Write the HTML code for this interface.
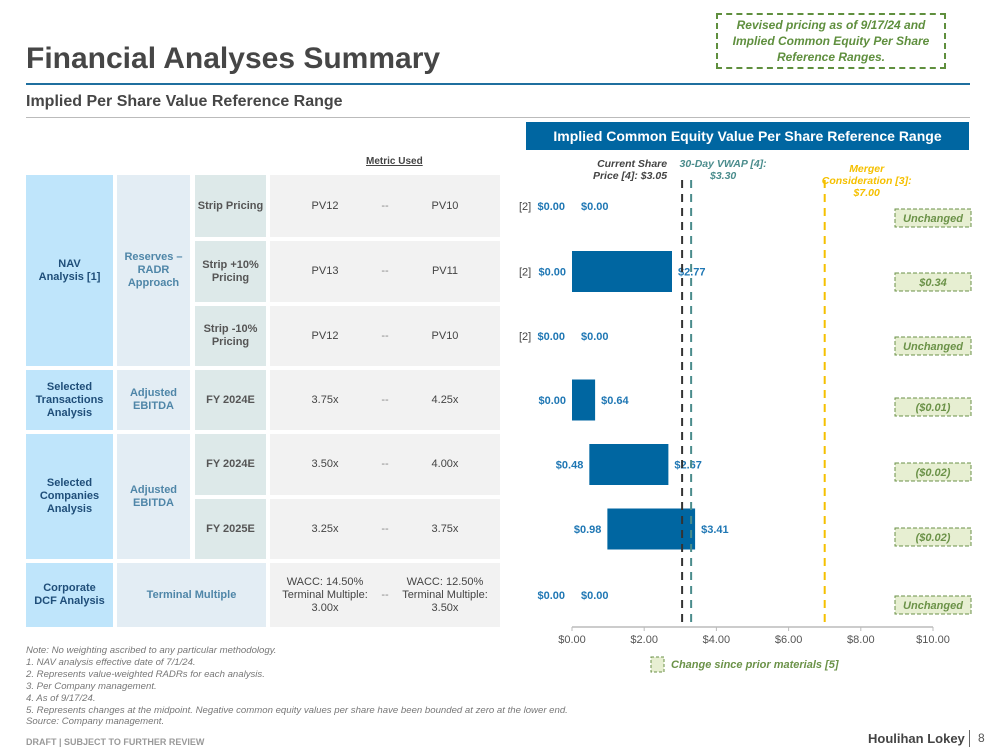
<!DOCTYPE html>
<html><head><meta charset="utf-8"><style>
*{margin:0;padding:0;box-sizing:border-box}
body{width:999px;height:750px;background:#fff;position:relative;font-family:"Liberation Sans",Arial,sans-serif;overflow:hidden}
.a{position:absolute}
.c{position:absolute;display:flex;align-items:center;justify-content:center;text-align:center;font-size:11px;line-height:13px}
.c1{background:#bfe5fb;color:#1f4e79;font-weight:bold}
.c2{background:#e3edf4;color:#4f86a8;font-weight:bold}
.c3{background:#dde9e9;color:#555;font-weight:bold}
.c4{background:#f2f2f2;color:#444}
.note{position:absolute;left:26px;font-size:9.6px;font-style:italic;color:#777}
</style></head><body>
<div class="a" style="left:26px;top:42px;font-size:30px;font-weight:bold;color:#464646">Financial Analyses Summary</div>
<div class="a" style="left:716px;top:13px;width:230px;height:56px;border:2px dashed #5f8f3e;color:#5f8f3e;font-style:italic;font-weight:bold;font-size:12px;line-height:16px;text-align:center;padding-top:2px">Revised pricing as of 9/17/24 and Implied Common Equity Per Share Reference Ranges.</div>
<div class="a" style="left:26px;top:83px;width:944px;height:2px;background:#1f6f9f"></div>
<div class="a" style="left:26px;top:93px;font-size:16px;font-weight:bold;color:#464646">Implied Per Share Value Reference Range</div>
<div class="a" style="left:26px;top:117px;width:944px;height:1px;background:#bbb"></div>
<div class="a" style="left:526px;top:122px;width:443px;height:28px;background:#0066a1;color:#fff;font-weight:bold;font-size:14px;line-height:28px;text-align:center">Implied Common Equity Value Per Share Reference Range</div>
<div class="a" style="left:366px;top:156px;font-size:10px;font-weight:bold;color:#444;text-decoration:underline">Metric Used</div>

<div class="c c1" style="left:26px;top:175px;width:87px;height:191px">NAV<br>Analysis [1]</div>
<div class="c c2" style="left:117px;top:175px;width:73px;height:191px">Reserves –<br>RADR<br>Approach</div>
<div class="c c3" style="left:195px;top:175px;width:71px;height:62px">Strip Pricing</div>
<div class="c c3" style="left:195px;top:241px;width:71px;height:61px">Strip +10%<br>Pricing</div>
<div class="c c3" style="left:195px;top:306px;width:71px;height:60px">Strip -10%<br>Pricing</div>
<div class="c c1" style="left:26px;top:370px;width:87px;height:60px">Selected<br>Transactions<br>Analysis</div>
<div class="c c2" style="left:117px;top:370px;width:73px;height:60px">Adjusted<br>EBITDA</div>
<div class="c c3" style="left:195px;top:370px;width:71px;height:60px">FY 2024E</div>
<div class="c c1" style="left:26px;top:434px;width:87px;height:125px">Selected<br>Companies<br>Analysis</div>
<div class="c c2" style="left:117px;top:434px;width:73px;height:125px">Adjusted<br>EBITDA</div>
<div class="c c3" style="left:195px;top:434px;width:71px;height:61px">FY 2024E</div>
<div class="c c3" style="left:195px;top:499px;width:71px;height:60px">FY 2025E</div>
<div class="c c1" style="left:26px;top:563px;width:87px;height:64px">Corporate<br>DCF Analysis</div>
<div class="c c2" style="left:117px;top:563px;width:149px;height:64px">Terminal Multiple</div>

<div id="metrics"></div>

<svg class="a" style="left:0;top:0" width="999" height="750" id="chart"></svg>

<div class="note" style="top:645px">Note: No weighting ascribed to any particular methodology.</div>
<div class="note" style="top:657px">1. NAV analysis effective date of 7/1/24.</div>
<div class="note" style="top:669px">2. Represents value-weighted RADRs for each analysis.</div>
<div class="note" style="top:681px">3. Per Company management.</div>
<div class="note" style="top:693px">4. As of 9/17/24.</div>
<div class="note" style="top:705px">5. Represents changes at the midpoint. Negative common equity values per share have been bounded at zero at the lower end.</div>
<div class="note" style="top:716px">Source: Company management.</div>
<div class="a" style="left:26px;top:737px;font-size:9px;font-weight:bold;color:#999">DRAFT | SUBJECT TO FURTHER REVIEW</div>
<div class="a" style="left:868px;top:731px;font-size:13px;font-weight:bold;color:#444">Houlihan Lokey</div>
<div class="a" style="left:969px;top:730px;width:1px;height:17px;background:#666"></div>
<div class="a" style="left:978px;top:731px;font-size:12px;color:#555">8</div>

<script>
const lowVals=[0,0,0,0,0.48,0.98,0];
const highVals=[0,2.77,0,0.64,2.67,3.41,0];
const changes=["Unchanged","$0.34","Unchanged","($0.01)","($0.02)","($0.02)","Unchanged"];
const metricLow=["PV12","PV13","PV12","3.75x","3.50x","3.25x","WACC: 14.50%<br>Terminal Multiple:<br>3.00x"];
const metricHigh=["PV10","PV11","PV10","4.25x","4.00x","3.75x","WACC: 12.50%<br>Terminal Multiple:<br>3.50x"];
const footTags=["[2]","[2]","[2]","","","",""];
const ticks=[0,2,4,6,8,10];
const refVals=[3.05,3.30,7.00];

const NS="http://www.w3.org/2000/svg";
const svg=document.getElementById('chart');
const x=v=>572+v*36.1;
const rowTop=[175,241,306,370,434,499,563];
const rowH=[62,61,60,60,61,60,64];
const y=i=>rowTop[i]+rowH[i]/2;
function mk(t,a){const e=document.createElementNS(NS,t);for(const k in a)e.setAttribute(k,a[k]);svg.appendChild(e);return e;}
function tx(s,a){const e=mk('text',a);e.textContent=s;return e;}
const md=document.getElementById('metrics');
for(let i=0;i<7;i++){
  const d=document.createElement('div');d.className='c c4';
  
  
  d.style.cssText=`left:270px;top:${rowTop[i]}px;width:230px;height:${rowH[i]}px;justify-content:space-between;padding:0 10px`;
  d.innerHTML=`<span style="width:90px">${metricLow[i]}</span><span style="color:#888">--</span><span style="width:90px">${metricHigh[i]}</span>`;
  md.appendChild(d);
}
const ax=mk('line',{x1:x(0),x2:x(10),y1:627,y2:627,stroke:'#bbb','stroke-width':1.5});

ticks.forEach(t=>{
  const l=mk('line',{x1:x(t),x2:x(t),y1:627,y2:631,stroke:'#bbb'});
  
  const tt=tx('$'+t.toFixed(2),{x:x(t),y:643,'text-anchor':'middle','font-size':11,fill:'#555'});
  
});
for(let i=0;i<7;i++){
  const cy=y(i);
  if(highVals[i]>lowVals[i]){
    const r=mk('rect',{x:x(lowVals[i]),y:cy-20.5,width:x(highVals[i])-x(lowVals[i]),height:41,fill:'#0066a1'});
    
  }
  const hasBar=highVals[i]>lowVals[i];
  const lx=hasBar?x(lowVals[i])-6:565;
  const hx=hasBar?x(highVals[i])+6:581;
  const lt=tx('$'+lowVals[i].toFixed(2),{x:lx,y:cy+4,'text-anchor':'end','font-size':11,'font-weight':'bold',fill:'#1f77b4'});
  
  const ht=tx('$'+highVals[i].toFixed(2),{x:hx,y:cy+4,'font-size':11,'font-weight':'bold',fill:'#1f77b4'});
  
  if(footTags[i]){const f=tx(footTags[i],{x:519,y:cy+4,'font-size':11,fill:'#444'});
    }
  const by=[209,273,337,398,463,528,596][i];
  const b=mk('rect',{x:895,y:by,width:76,height:18,fill:'#e7efd2',stroke:'#6b9248','stroke-dasharray':'4,2'});
  
  const bt=tx(changes[i],{x:933,y:by+13,'text-anchor':'middle','font-size':11,'font-style':'italic','font-weight':'bold',fill:'#6b9248'});
  
}
const refCol=['#333','#4a8c8c','#f5c000'];
refVals.forEach((v,k)=>{
  const l=mk('line',{x1:x(v),x2:x(v),y1:180,y2:627,stroke:refCol[k],'stroke-width':2,'stroke-dasharray':'8,6'});
  
});
const rl=[[x(refVals[0])-15,['Current Share','Price [4]: $3.05'],'end','#444',167],[x(refVals[1])+32,['30-Day VWAP [4]:','$3.30'],'middle','#4a8c8c',167],[x(refVals[2])+42,['Merger','Consideration [3]:','$7.00'],'middle','#f5c000',172]];
rl.forEach(r=>{r[1].forEach((s,j)=>{const t=tx(s,{x:r[0],y:r[4]+j*12,'text-anchor':r[2],'font-size':10.5,'font-style':'italic','font-weight':'bold',fill:r[3]});
  });});
const lg=mk('rect',{x:651,y:657,width:13,height:15,fill:'#e7efd2',stroke:'#6b9248','stroke-dasharray':'3,2'});

const lgt=tx('Change since prior materials [5]',{x:671,y:668,'font-size':11,'font-style':'italic','font-weight':'bold',fill:'#6b9248'});

</script>
</body></html>
